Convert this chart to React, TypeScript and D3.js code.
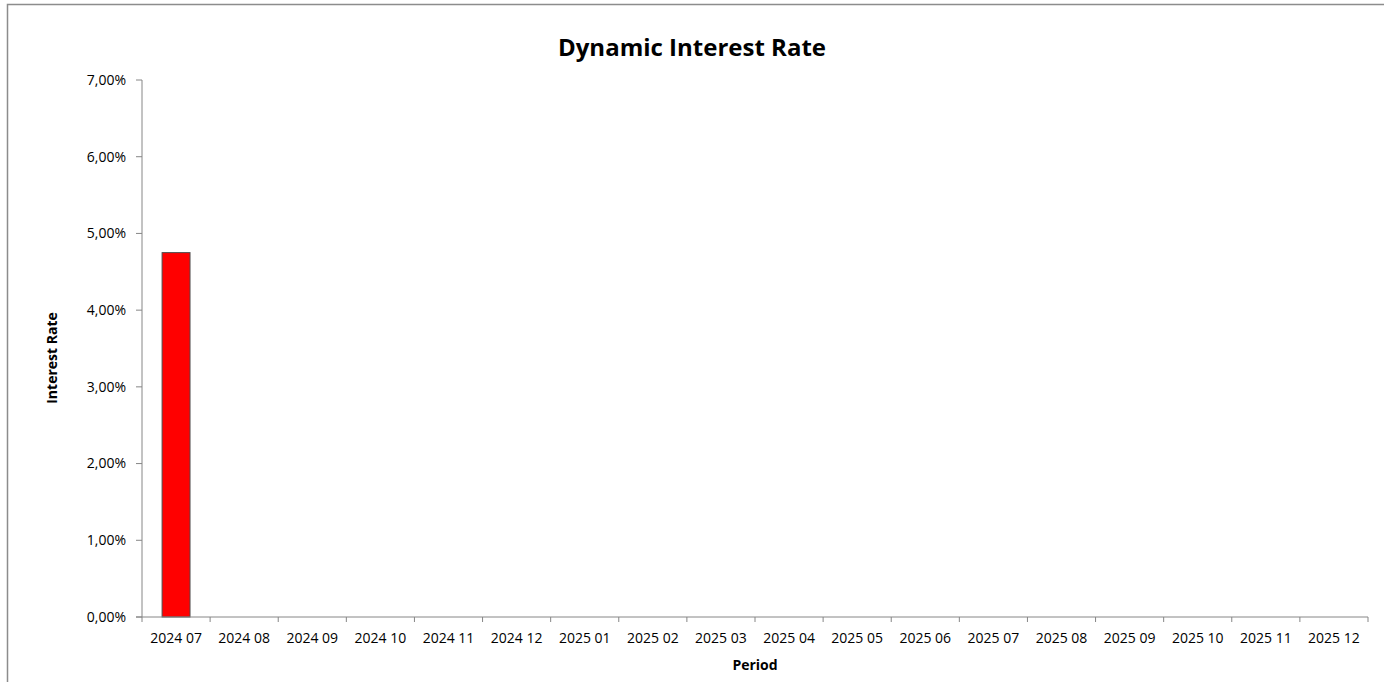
import React from "react";
import * as d3 from "d3";

const periods = [
  "2024 07", "2024 08", "2024 09", "2024 10", "2024 11", "2024 12",
  "2025 01", "2025 02", "2025 03", "2025 04", "2025 05", "2025 06",
  "2025 07", "2025 08", "2025 09", "2025 10", "2025 11", "2025 12",
];
const rates: (number | null)[] = [
  0.0475, null, null, null, null, null, null, null, null, null, null, null,
  null, null, null, null, null, null,
];
const yTicks = [0, 0.01, 0.02, 0.03, 0.04, 0.05, 0.06, 0.07];

const W = 1384;
const H = 682;
const margin = { left: 142, right: 1368, top: 80, bottom: 617 };
const FONT = "'Open Sans', 'Noto Sans', sans-serif";

export default function App() {
  const x = d3.scaleBand<string>().domain(periods).range([margin.left, margin.right]).paddingInner(0).paddingOuter(0);
  const y = d3.scaleLinear().domain([0, 0.07]).range([margin.bottom, margin.top]);
  const fmt = (v: number) => (v * 100).toFixed(2).replace(".", ",") + "%";
  const barW = x.bandwidth() * 0.41;
  const axisColor = "#868686";

  return (
    <svg width={W} height={H} style={{ position: "absolute", left: 0, top: 0 }}>
      <rect x={7.5} y={4.5} width={W + 10} height={H + 10} fill="#fff" stroke="#8c8c8c" strokeWidth={1.5} />
      <text x={692} y={56} textAnchor="middle" fontFamily={FONT} fontWeight="bold" fontSize={24} fill="#000">
        Dynamic Interest Rate
      </text>
      {periods.map((p, i) => {
        const v = rates[i];
        if (v == null) return null;
        const cx = (x(p) as number) + x.bandwidth() / 2;
        return (
          <rect key={p} x={cx - barW / 2} y={y(v)} width={barW} height={y(0) - y(v)} fill="#ff0000" stroke="#4d4d4d" strokeWidth={1} />
        );
      })}
      <line x1={margin.left} x2={margin.left} y1={margin.top} y2={margin.bottom} stroke={axisColor} strokeWidth={1} />
      {yTicks.map((t) => (
        <g key={t}>
          <line x1={margin.left - 6} x2={margin.left} y1={y(t)} y2={y(t)} stroke={axisColor} />
          <text x={126} y={y(t)} dy="0.35em" textAnchor="end" fontFamily={FONT} fontSize={14} fill="#000">
            {fmt(t)}
          </text>
        </g>
      ))}
      <line x1={margin.left - 6} x2={margin.right} y1={margin.bottom} y2={margin.bottom} stroke={axisColor} />
      {[...periods.map((p) => x(p) as number), margin.right].map((xp, i) => (
        <line key={i} x1={xp} x2={xp} y1={margin.bottom} y2={margin.bottom + 5} stroke={axisColor} />
      ))}
      {periods.map((p) => (
        <text key={p} x={(x(p) as number) + x.bandwidth() / 2} y={643} textAnchor="middle" fontFamily={FONT} fontSize={14} fill="#000">
          {p}
        </text>
      ))}
      <text x={(margin.left + margin.right) / 2} y={670} textAnchor="middle" fontFamily={FONT} fontWeight="bold" fontSize={14} fill="#000">
        Period
      </text>
      <text transform={`translate(57, 358) rotate(-90)`} textAnchor="middle" fontFamily={FONT} fontWeight="bold" fontSize={14} fill="#000">
        Interest Rate
      </text>
    </svg>
  );
}
